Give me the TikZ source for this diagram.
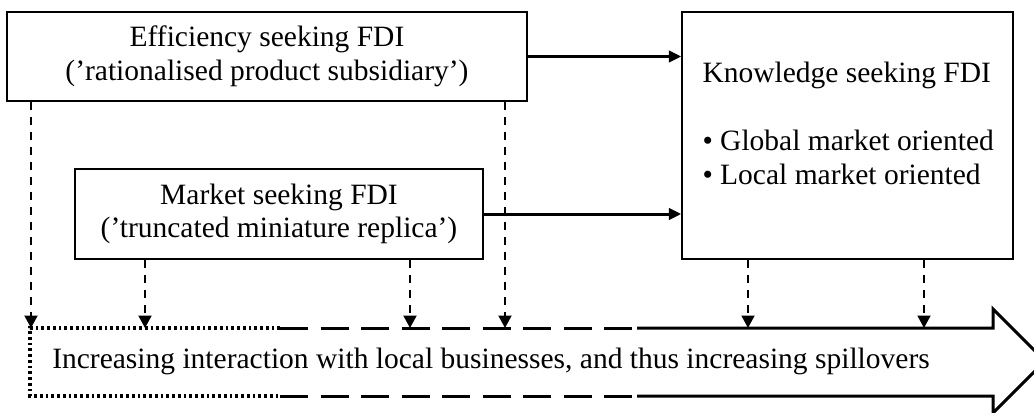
\documentclass[tikz,border=0pt]{standalone}
\usepackage{fontspec}
\setmainfont{Liberation Serif}
\usetikzlibrary{arrows.meta}
\begin{document}
\begin{tikzpicture}[x=0.4pt,y=-0.4pt,
    every node/.style={font=\fontsize{11.8}{13.4}\selectfont},
    fdibox/.style={draw,line width=0.6pt,inner sep=0pt,align=center},
    linkarrow/.style={-{Triangle[length=5pt,width=4.6pt]},line width=1.2pt},
    droparrow/.style={-{Triangle[length=5pt,width=5.2pt]},line width=0.8pt,dash pattern=on 3.2pt off 2.8pt},
    edge/.style={line width=1.2pt}]
  \useasboundingbox (0,0) rectangle (1034,413);

  \node[fdibox,minimum width=208pt,minimum height=35.6pt] (eff) at (267,56.5)
    {Efficiency seeking FDI\\(’rationalised product subsidiary’)};
  \node[fdibox,minimum width=163.2pt,minimum height=36pt] (mkt) at (279,214)
    {Market seeking FDI\\(’truncated miniature replica’)};
  \node[fdibox,minimum width=132.4pt,minimum height=98.8pt] (know) at (847.5,135.5) {};
  \node[anchor=west,inner sep=0pt] (knowtitle) at (702,75) {Knowledge seeking FDI};
  \node[anchor=west,inner sep=0pt] (glob) at (702,140) {\textbullet\ Global market oriented};
  \node[anchor=west,inner sep=0pt] (loc) at (702,174) {\textbullet\ Local market oriented};

  \draw[linkarrow] (eff.east) -- (eff.east -| know.west);
  \draw[linkarrow] (mkt.east) -- (mkt.east -| know.west);

  % the wide arrow at the bottom
  \draw[edge,line width=1.3pt,dash pattern=on 1.1pt off 1.2pt] (280,328) -- (30,328) -- (30,396) -- (280,396);
  \draw[edge,dash pattern=on 11.2pt off 5pt] (280,328) -- (637,328);
  \draw[edge,dash pattern=on 11.2pt off 5pt] (280,396) -- (637,396);
  \draw[edge] (637,328) -- (993,328) -- (993,309) -- (1045,361) -- (993,413) -- (993,396) -- (637,396);
  \node[inner sep=0pt] (spill) at (491,361)
    {Increasing interaction with local businesses, and thus increasing spillovers};

  \foreach \n/\x in {a/31,b/505,c/145,d/410,e/748,f/924}
    \coordinate (in\n) at (\x,328);
  \foreach \n in {a,b}
    \draw[droparrow] (in\n |- eff.south) -- (in\n);
  \foreach \n in {c,d}
    \draw[droparrow] (in\n |- mkt.south) -- (in\n);
  \foreach \n in {e,f}
    \draw[droparrow] (in\n |- know.south) -- (in\n);
\end{tikzpicture}
\end{document}
